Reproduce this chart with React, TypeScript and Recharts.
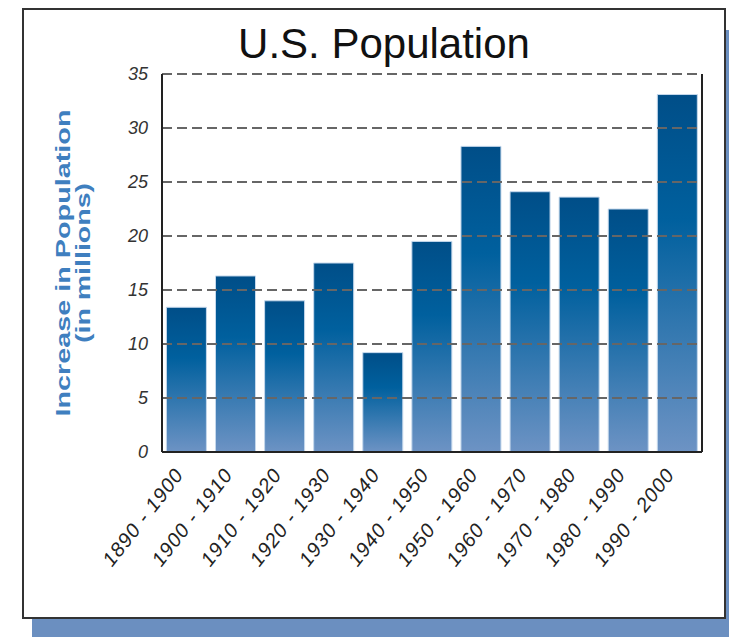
import { BarChart, Bar, XAxis, YAxis, ReferenceLine, CartesianGrid } from "recharts";

const DECADES = [
  "1890 - 1900",
  "1900 - 1910",
  "1910 - 1920",
  "1920 - 1930",
  "1930 - 1940",
  "1940 - 1950",
  "1950 - 1960",
  "1960 - 1970",
  "1970 - 1980",
  "1980 - 1990",
  "1990 - 2000",
];

// increase in population, millions
const INCREASE = [13.4, 16.3, 14.0, 17.5, 9.2, 19.5, 28.3, 24.1, 23.6, 22.5, 33.1];

const Y_TICKS = [0, 5, 10, 15, 20, 25, 30, 35];

const data = DECADES.map((decade, i) => ({ decade, value: INCREASE[i] }));

const FONT = "'Liberation Sans', Arial, sans-serif";

function DecadeTick({ x, y, payload }: any) {
  const tx = x - 2;
  const ty = y + 23;
  return (
    <text
      x={tx}
      y={ty}
      transform={`rotate(-52 ${tx} ${ty})`}
      textAnchor="end"
      fontFamily={FONT}
      fontStyle="italic"
      fontSize={20}
      letterSpacing={1}
      fill="#222"
    >
      {payload.value}
    </text>
  );
}

export default function App() {
  return (
    <div
      style={{
        position: "absolute",
        left: 0,
        top: 0,
        width: 729,
        height: 637,
        overflow: "hidden",
        background: "#fff",
      }}
    >
      {/* shadow */}
      <div
        style={{
          position: "absolute",
          left: 32,
          top: 30,
          width: 729 - 32,
          height: 637 - 30,
          background: "#6b8fc0",
        }}
      />
      {/* frame */}
      <div
        style={{
          position: "absolute",
          left: 22,
          top: 8,
          width: 700,
          height: 607,
          background: "#fff",
          border: "2px solid #333",
        }}
      />

      <div style={{ position: "absolute", left: 0, top: 0 }}>
        <BarChart
          width={729}
          height={637}
          data={data}
          margin={{ top: 74, right: 27, bottom: 0, left: 122 }}
          barCategoryGap="9%"
        >
          <defs>
            <linearGradient id="barGrad" x1="0" y1="0" x2="0" y2="1">
              <stop offset="0%" stopColor="#004e88" />
              <stop offset="35%" stopColor="#00609e" />
              <stop offset="100%" stopColor="#6d93c4" />
            </linearGradient>
          </defs>
          {/* solid right edge of the plot */}
          <CartesianGrid
            horizontal={false}
            stroke="#222"
            strokeWidth={2}
            verticalCoordinatesGenerator={({ offset }: any) => [
              offset.left + offset.width,
            ]}
          />
          <XAxis
            dataKey="decade"
            interval={0}
            tickLine={false}
            tickSize={0}
            tickMargin={0}
            axisLine={{ stroke: "#222", strokeWidth: 2 }}
            tick={<DecadeTick />}
            height={185}
          />
          <YAxis
            domain={[0, 35]}
            ticks={Y_TICKS}
            width={40}
            tickLine={false}
            tickSize={0}
            tickMargin={14}
            axisLine={{ stroke: "#222", strokeWidth: 2 }}
            tick={{
              fontFamily: FONT,
              fontStyle: "italic",
              fontSize: 18,
              fill: "#333",
            }}
          />
          <Bar
            dataKey="value"
            fill="url(#barGrad)"
            stroke="#c5d8ec"
            strokeWidth={1}
            isAnimationActive={false}
          />
          {Y_TICKS.filter((t) => t > 0).map((t) => (
            <ReferenceLine
              key={t}
              y={t}
              stroke="#666"
              strokeWidth={2}
              strokeDasharray="10 5"
            />
          ))}
        </BarChart>
      </div>

      {/* title and axis title */}
      <svg
        width={729}
        height={637}
        style={{ position: "absolute", left: 0, top: 0, pointerEvents: "none" }}
      >
        <text
          x={384}
          y={58}
          textAnchor="middle"
          fontFamily={FONT}
          fontSize={42}
          fill="#111"
        >
          U.S. Population
        </text>
        <g fontFamily={FONT} fontWeight="bold" fontSize={21} fill="#3f7fbf">
          <text
            x={0}
            y={0}
            transform="translate(70 263) rotate(-90)"
            textAnchor="middle"
            textLength={307}
            lengthAdjust="spacingAndGlyphs"
          >
            Increase in Population
          </text>
          <text
            x={0}
            y={0}
            transform="translate(90 263) rotate(-90)"
            textAnchor="middle"
            textLength={160}
            lengthAdjust="spacingAndGlyphs"
          >
            (in millions)
          </text>
        </g>
      </svg>
    </div>
  );
}
